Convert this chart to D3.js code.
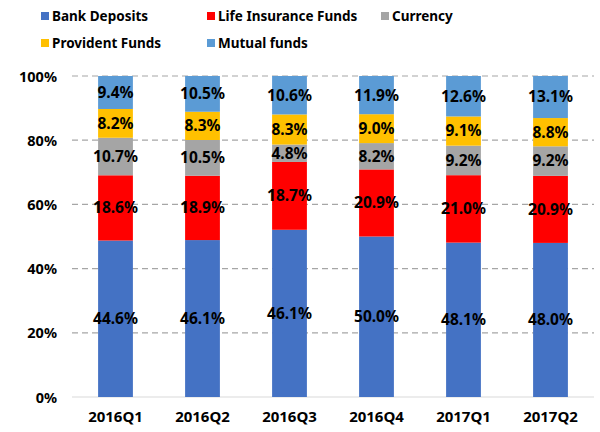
<!DOCTYPE html>
<html><head><meta charset="utf-8">
<script src="https://cdn.jsdelivr.net/npm/d3@7"></script>
<style>body{margin:0;background:#fff;} text{font-family:"Noto Sans",sans-serif;font-weight:bold;}</style>
</head><body>
<svg id="c" width="600" height="432"></svg>
<script>
const categories = ["2016Q1","2016Q2","2016Q3","2016Q4","2017Q1","2017Q2"];
const seriesNames = ["Bank Deposits","Life Insurance Funds","Currency","Provident Funds","Mutual funds"];
const seriesColors = ["#4472C4","#FF0000","#A5A5A5","#FFC000","#5B9BD5"];
const bankDeposits = [44.6,46.1,46.1,50.0,48.1,48.0];
const lifeInsurance = [18.6,18.9,18.7,20.9,21.0,20.9];
const currency = [10.7,10.5,4.8,8.2,9.2,9.2];
const providentFunds = [8.2,8.3,8.3,9.0,9.1,8.8];
const mutualFunds = [9.4,10.5,10.6,11.9,12.6,13.1];
const yTicks = [0,0.2,0.4,0.6,0.8,1.0];

const seriesVals = [bankDeposits,lifeInsurance,currency,providentFunds,mutualFunds];
const rows = categories.map((c,i)=>{
  const r={cat:c};
  seriesNames.forEach((s,j)=>r[s]=seriesVals[j][i]);
  return r;
});
const stack = d3.stack().keys(seriesNames).offset(d3.stackOffsetExpand);
const stacked = stack(rows);

const svg = d3.select("#c");
const x = d3.scaleBand().domain(categories).range([72,594]).paddingInner(0.6).paddingOuter(0.3);
const y = d3.scaleLinear().domain([0,1]).range([397,76]);

// gridlines
svg.append("g").selectAll("line").data(yTicks.filter(t=>t>0)).join("line")
  .attr("x1",72).attr("x2",594).attr("y1",d=>y(d)).attr("y2",d=>y(d))
  .attr("stroke","#A6A6A6").attr("stroke-width",1.2).attr("stroke-dasharray","6,4");
svg.append("line").attr("x1",72).attr("x2",594).attr("y1",y(0)).attr("y2",y(0))
  .attr("stroke","#D9D9D9").attr("stroke-width",1.2);

// y axis
const yAxis = d3.axisLeft(y).tickValues(yTicks).tickFormat(d3.format(".0%")).tickSize(0).tickPadding(0);
const ya = svg.append("g").attr("transform","translate(57,0)").call(yAxis);
ya.select(".domain").remove();
ya.selectAll("text").attr("font-size",14.5).attr("fill","#000").attr("font-family","'Noto Sans',sans-serif").attr("font-weight","bold").attr("dy","0.35em");

// x axis
const xAxis = d3.axisBottom(x).tickSize(0).tickPadding(0);
const xa = svg.append("g").attr("transform","translate(0,411)").call(xAxis);
xa.select(".domain").remove();
xa.selectAll("text").attr("font-size",15).attr("fill","#000").attr("font-family","'Noto Sans',sans-serif").attr("font-weight","bold").attr("dy","0.71em");

// bars
const layers = svg.append("g").selectAll("g").data(stacked).join("g")
  .attr("fill",(d,i)=>seriesColors[i]);
layers.selectAll("rect").data(d=>d).join("rect")
  .attr("x",d=>x(d.data.cat)).attr("width",x.bandwidth())
  .attr("y",d=>y(d[1])).attr("height",d=>y(d[0])-y(d[1]));

// labels
const lab = svg.append("g");
stacked.forEach((layer,i)=>{
  lab.selectAll(null).data(layer).join("text")
    .attr("x",d=>x(d.data.cat)+x.bandwidth()/2)
    .attr("y",d=>(y(d[0])+y(d[1]))/2)
    .attr("dy","0.35em").attr("text-anchor","middle")
    .attr("font-size",15.5).attr("fill","#000")
    .text(d=>d.data[layer.key].toFixed(1)+"%");
});

// legend
const legendPos = [[41,16],[207,16],[381,16],[41,43],[207,43]];
const lg = svg.append("g");
seriesNames.forEach((s,i)=>{
  const [lx,ly]=legendPos[i];
  lg.append("rect").attr("x",lx).attr("y",ly-4).attr("width",8).attr("height",8).attr("fill",seriesColors[i]);
  lg.append("text").attr("x",lx+11).attr("y",ly).attr("dy","0.35em").attr("font-size",13.5).attr("fill","#000").text(s);
});
</script>
</body></html>
